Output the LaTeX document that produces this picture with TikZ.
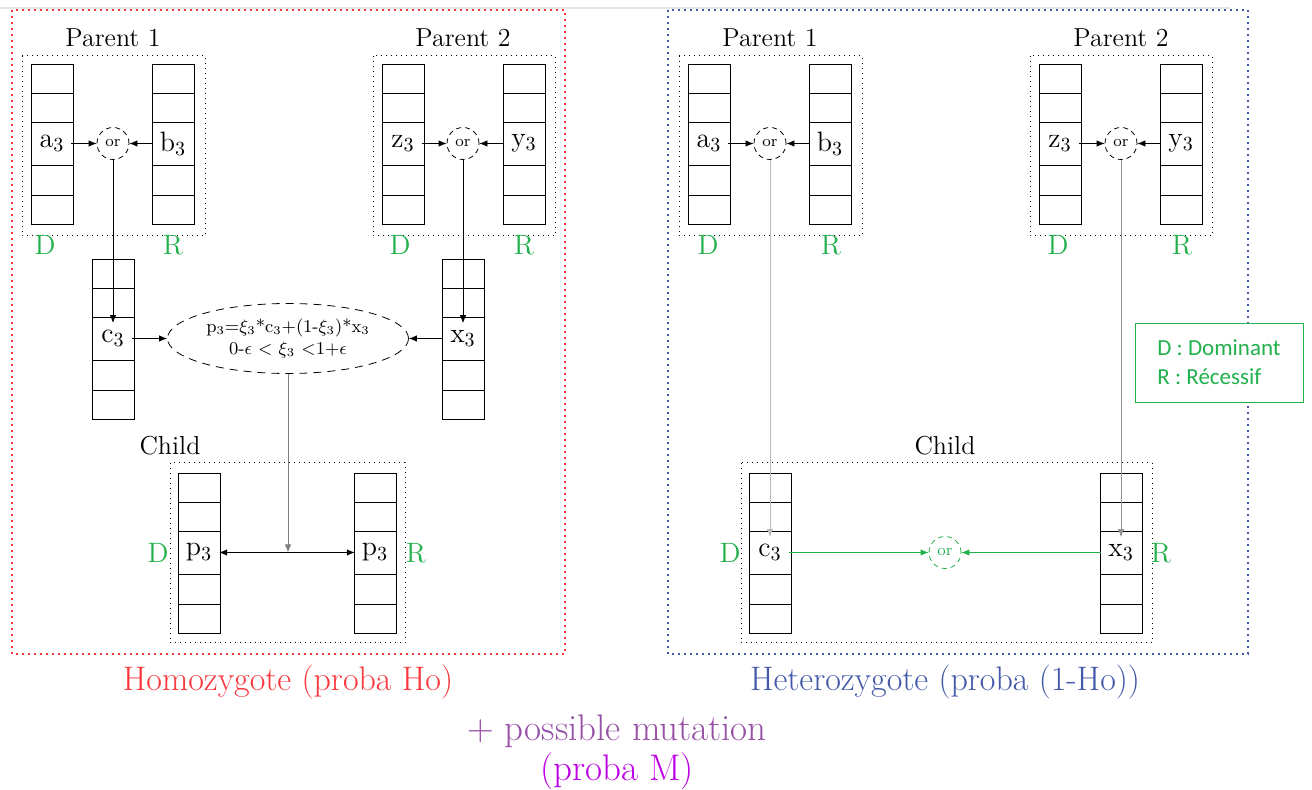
\documentclass[tikz,border=0pt]{standalone}
\usepackage{fontspec}
\usepackage{amsmath,amssymb}
\usepackage{xcolor}
\usetikzlibrary{arrows.meta,shapes.geometric}
\newfontfamily\legendfont{Carlito}

\definecolor{homred}{RGB}{250,55,60}
\definecolor{hetblue}{RGB}{66,88,168}
\definecolor{domgreen}{RGB}{34,177,76}
\definecolor{mutpurple}{RGB}{150,80,165}
\definecolor{mutmagenta}{RGB}{190,0,230}

% one chromosome: 5 cells, the middle one holds the gene
\newcommand{\genestack}[4]{%
  \draw[stackline] (#1,#2) rectangle ++(42,160);
  \foreach \dy in {29,58,101,131} \draw[stackline] (#1,#2+\dy) -- ++(42,0);
  \node[gene] (#3) at (#1+21,#2+79.5) {#4};
}

\tikzset{
  stackline/.style={line width=0.45pt},
  gene/.style={font=\fontsize{14}{16}\selectfont},
  orcirc/.style={circle,draw,dash pattern=on 2.5pt off 2pt,minimum size=16pt,inner sep=0pt,font=\footnotesize},
  famebox/.style={dotted,line width=0.5pt},
  title/.style={font=\fontsize{13}{15}\selectfont},
  allele/.style={text=domgreen,font=\fontsize{14}{16}\selectfont},
  >={Latex[length=4pt,width=3.2pt]}
}

\begin{document}
\begin{tikzpicture}[x=0.5pt,y=-0.5pt]
\useasboundingbox (0,0) rectangle (1312,790);
\draw[gray!20,line width=1pt] (0,8) -- (1230,8);

% Homozygote
\draw[homred,dotted,line width=1pt] (12,10) rectangle (565,654);
\node[title] (t1) at (113,38) {Parent 1};
\draw[famebox] (22,56) rectangle (205,236);
\genestack{31}{64}{pa}{a$_3$}
\genestack{152}{64}{pb}{b$_3$}
\node[orcirc] (or1) at (113,143.5) {or};
\node[allele] (d1) at (45,245) {D};
\node[allele] (r1) at (173,245) {R};
\draw[->] (pa) -- (or1);
\draw[->] (pb) -- (or1);

\node[title] (t2) at (463,38) {Parent 2};
\draw[famebox] (373,56) rectangle (555,236);
\genestack{382}{64}{pz}{z$_3$}
\genestack{503}{64}{py}{y$_3$}
\node[orcirc] (or2) at (463,143.5) {or};
\node[allele] (d2) at (400,245) {D};
\node[allele] (r2) at (524,245) {R};
\draw[->] (pz) -- (or2);
\draw[->] (py) -- (or2);

\genestack{92}{259}{pc}{c$_3$}
\genestack{442}{259}{px}{x$_3$}
\node[ellipse,draw,dash pattern=on 4pt off 3pt,minimum width=120.5pt,minimum height=35pt,inner sep=0pt,align=center,font=\small] (ell) at (288,338.5)
  {p$_3$=$\xi_3$*c$_3$+(1-$\xi_3$)*x$_3$\\0-$\epsilon$ $<$ $\xi_3$ $<$1+$\epsilon$};
\draw[->] (or1) -- (pc);
\draw[->] (or2) -- (px);
\draw[->] (pc) -- (ell);
\draw[->] (px) -- (ell);

\node[title] (t3) at (170,446) {Child};
\draw[famebox] (170,463) rectangle (405,643);
\genestack{178}{473}{cd}{p$_3$}
\genestack{354}{473}{cr}{p$_3$}
\node[allele] (d3) at (158,553) {D};
\node[allele] (r3) at (416,553) {R};
\draw[->,gray] (ell) -- (ell |- cd);
\draw[<->] (cd) -- (cr);

\node[text=homred,font=\fontsize{17}{20}\selectfont] (homo) at (288,682) {Homozygote (proba Ho)};

% Heterozygote
\draw[hetblue,dotted,line width=1pt] (668,10) rectangle (1248,654);
\node[title] (t4) at (770,38) {Parent 1};
\draw[famebox] (679,56) rectangle (862,236);
\genestack{688}{64}{qa}{a$_3$}
\genestack{809}{64}{qb}{b$_3$}
\node[orcirc] (or3) at (770,143.5) {or};
\node[allele] (d4) at (708,245) {D};
\node[allele] (r4) at (831,245) {R};
\draw[->] (qa) -- (or3);
\draw[->] (qb) -- (or3);

\node[title] (t5) at (1121,38) {Parent 2};
\draw[famebox] (1030,56) rectangle (1212,236);
\genestack{1039}{64}{qz}{z$_3$}
\genestack{1160}{64}{qy}{y$_3$}
\node[orcirc] (or4) at (1121,143.5) {or};
\node[allele] (d5) at (1058,245) {D};
\node[allele] (r5) at (1182,245) {R};
\draw[->] (qz) -- (or4);
\draw[->] (qy) -- (or4);

\node[title] (t6) at (945,446) {Child};
\draw[famebox] (741,463) rectangle (1152,643);
\genestack{749}{473}{qc}{c$_3$}
\genestack{1100}{473}{qx}{x$_3$}
\node[allele] (d6) at (730,553) {D};
\node[allele] (r6) at (1161,553) {R};
\node[orcirc,draw=domgreen,text=domgreen] (or5) at (945,552.5) {or};
\draw[->,gray!55] (or3) -- (qc);
\draw[->,gray!85] (or4) -- (qx);
\draw[->,domgreen] (qc) -- (or5);
\draw[->,domgreen] (qx) -- (or5);

\node[text=hetblue,font=\fontsize{17}{20}\selectfont] (hetero) at (945,682) {Heterozygote (proba (1-Ho))};

\node[draw=domgreen,fill=white,text=domgreen,align=left,minimum width=84pt,minimum height=39.5pt,
  font=\legendfont\fontsize{11.5}{14.5}\selectfont] (key) at (1219,362.5) {D : Dominant\\R : Récessif};

\node[text=mutpurple,font=\fontsize{18.5}{21}\selectfont] (mut) at (617,731) {+ possible mutation};
\node[text=mutmagenta,font=\fontsize{18.5}{21}\selectfont] (mutp) at (617,771) {(proba M)};
\end{tikzpicture}
\end{document}
